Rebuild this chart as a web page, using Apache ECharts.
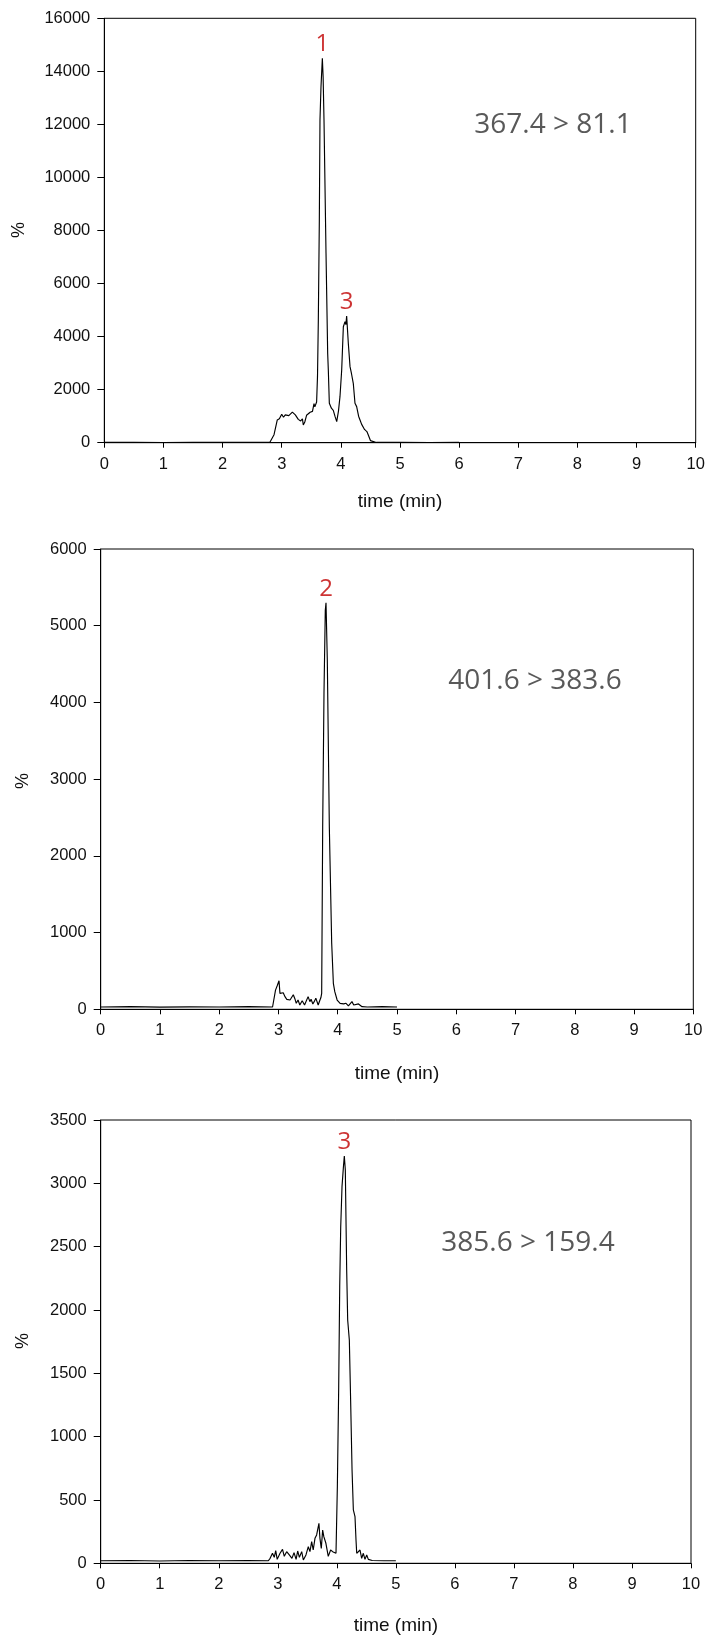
<!DOCTYPE html>
<html>
<head>
<meta charset="utf-8">
<title>MRM chromatograms</title>
<script src="https://cdn.jsdelivr.net/npm/echarts@6/dist/echarts.min.js"></script>
<style>
  html, body { margin: 0; padding: 0; background: #ffffff; }
  #chart { width: 710px; height: 1639px; }
</style>
</head>
<body>
<div id="chart"></div>
<script>
// Transitions (precursor > product, m/z) shown in each panel
const transitions = ['367.4 > 81.1', '401.6 > 383.6', '385.6 > 159.4'];

// Axis ranges for the three panels
const xRange = { min: 0, max: 10, step: 1 };
const yMax = [16000, 6000, 3500];
const yStep = [2000, 1000, 500];

// Trace 1: 367.4 > 81.1  [time (min), intensity]
const trace1 = [
  [0, 10], [0.5, 12], [1, 8], [1.5, 12], [2, 10], [2.5, 12], [2.8, 15],
  [2.83, 40], [2.87, 300], [2.925, 856], [2.96, 900], [3.0, 1070], [3.03, 960],
  [3.06, 1050], [3.09, 980], [3.12, 1020], [3.15, 960], [3.18, 1150], [3.2, 1207],
  [3.23, 1050], [3.25, 1100], [3.28, 880], [3.3, 950], [3.32, 820], [3.35, 900],
  [3.365, 667], [3.39, 780], [3.42, 1033], [3.45, 1000], [3.48, 1150], [3.507, 1221],
  [3.52, 1180], [3.546, 1470], [3.56, 1350], [3.59, 1534], [3.605, 2500], [3.619, 4626],
  [3.636, 8396], [3.647, 12166], [3.664, 13422], [3.687, 14492], [3.7, 13800],
  [3.715, 12166], [3.749, 7140], [3.777, 3370], [3.788, 2741], [3.805, 1485],
  [3.816, 1421], [3.84, 1300], [3.872, 1221], [3.9, 1000], [3.93, 792], [3.96, 1200],
  [3.985, 1735], [4.014, 2741], [4.042, 4373], [4.07, 4563], [4.085, 4450],
  [4.098, 4777], [4.126, 3747], [4.155, 2867], [4.18, 2600], [4.21, 2240],
  [4.239, 1485], [4.267, 1360], [4.3, 1000], [4.324, 856], [4.35, 700], [4.38, 667],
  [4.4, 500], [4.425, 540], [4.44, 420], [4.464, 290], [4.5, 80], [4.521, 20],
  [4.6, 10], [5, 12], [5.5, 8], [6, 10]
];

// Trace 2: 401.6 > 383.6
const trace2 = [
  [0, 30], [0.5, 34], [1, 28], [1.5, 32], [2, 30], [2.5, 34], [2.9, 30],
  [2.913, 34], [2.95, 250], [2.98, 310], [3.009, 373], [3.025, 208], [3.05, 190],
  [3.08, 215], [3.11, 165], [3.14, 130], [3.17, 140], [3.195, 121], [3.22, 100],
  [3.25, 190], [3.28, 130], [3.3, 78], [3.33, 121], [3.36, 56], [3.4, 112],
  [3.44, 56], [3.47, 80], [3.5, 165], [3.53, 100], [3.55, 130], [3.58, 70],
  [3.61, 110], [3.63, 145], [3.67, 56], [3.7, 121], [3.715, 150], [3.729, 208],
  [3.746, 2380], [3.768, 4119], [3.79, 5200], [3.802, 5300], [3.824, 4553],
  [3.858, 2380], [3.898, 860], [3.926, 339], [3.95, 230], [3.97, 208], [3.99, 121],
  [4.04, 78], [4.1, 70], [4.14, 78], [4.18, 45], [4.24, 100], [4.27, 56],
  [4.35, 70], [4.41, 34], [4.5, 30], [4.75, 34], [5, 30]
];

// Trace 3: 385.6 > 159.4
const trace3 = [
  [0, 20], [0.5, 22], [1, 18], [1.5, 22], [2, 20], [2.5, 22], [2.84, 20],
  [2.87, 39], [2.91, 79], [2.94, 47], [2.965, 100], [2.99, 31], [3.038, 79],
  [3.08, 110], [3.11, 55], [3.15, 92], [3.195, 66], [3.24, 39], [3.275, 84],
  [3.31, 31], [3.337, 97], [3.366, 47], [3.405, 92], [3.433, 26], [3.477, 66],
  [3.517, 131], [3.545, 92], [3.574, 171], [3.6, 105], [3.63, 197], [3.658, 224],
  [3.697, 316], [3.714, 197], [3.737, 118], [3.76, 263], [3.78, 210], [3.815, 158],
  [3.855, 55], [3.895, 105], [3.93, 92], [3.958, 79], [3.986, 79], [4.009, 605],
  [4.032, 1395], [4.049, 2184], [4.066, 2658], [4.088, 2974], [4.11, 3118],
  [4.127, 3216], [4.144, 3105], [4.167, 2316], [4.184, 1921], [4.212, 1763],
  [4.235, 1263], [4.258, 737], [4.28, 421], [4.308, 368], [4.325, 184], [4.337, 79],
  [4.365, 66], [4.393, 105], [4.421, 39], [4.449, 79], [4.477, 31], [4.506, 66],
  [4.534, 31], [4.6, 22], [4.8, 20], [5, 20]
];

// Peak numbers placed above their apexes: [time, intensity, label]
const peaks1 = [[3.687, 14492, '1'], [4.098, 4777, '3']];
const peaks2 = [[3.802, 5300, '2']];
const peaks3 = [[4.127, 3216, '3']];

const traces = [trace1, trace2, trace3];
const peakSets = [peaks1, peaks2, peaks3];

// Panel boxes in page pixels
const panels = [
  { left: 104.3, top: 18.3, width: 591.4, height: 424.4, titleY: 502, pctY: 230, pctX: 19, noteX: 553, noteY: 125 },
  { left: 100.7, top: 549, width: 592.6, height: 460.3, titleY: 1074, pctY: 781, pctX: 23, noteX: 535, noteY: 681 },
  { left: 100.7, top: 1120, width: 590.3, height: 443.3, titleY: 1626, pctY: 1341, pctX: 23, noteX: 528, noteY: 1243 }
];

const axisFont = 'Liberation Sans, Arial, sans-serif';
const noteFont = '"Open Sans", Lato, sans-serif';

const grid = [], xAxis = [], yAxis = [], series = [], graphic = [];

panels.forEach((p, i) => {
  grid.push({
    left: p.left, top: p.top, width: p.width, height: p.height,
    show: true, borderColor: '#000', borderWidth: 1, backgroundColor: 'transparent'
  });
  xAxis.push({
    type: 'value', gridIndex: i, min: xRange.min, max: xRange.max, interval: xRange.step,
    axisLine: { show: true, onZero: false, lineStyle: { color: '#000', width: 1 } },
    axisTick: { show: true, inside: false, length: 5, lineStyle: { color: '#000' } },
    axisLabel: { margin: 13, color: '#111', fontSize: 16.5, fontFamily: axisFont, formatter: v => String(v) },
    splitLine: { show: false }
  });
  yAxis.push({
    type: 'value', gridIndex: i, min: 0, max: yMax[i], interval: yStep[i],
    axisLine: { show: true, onZero: false, lineStyle: { color: '#000', width: 1 } },
    axisTick: { show: true, inside: false, length: 7, lineStyle: { color: '#000' } },
    axisLabel: { margin: 14, color: '#111', fontSize: 16.5, fontFamily: axisFont, formatter: v => String(v) },
    splitLine: { show: false }
  });
  series.push({
    type: 'line', xAxisIndex: i, yAxisIndex: i, data: traces[i],
    showSymbol: false, symbol: 'none', smooth: false, silent: true,
    lineStyle: { color: '#000', width: 1.15 }, z: 3
  });
  series.push({
    type: 'scatter', xAxisIndex: i, yAxisIndex: i, symbolSize: 0, silent: true, z: 4,
    data: peakSets[i].map(d => ({ value: [d[0], d[1]], name: d[2] })),
    label: {
      show: true, position: 'top', distance: 2, formatter: '{b}',
      color: '#c00000', fontSize: 24, fontFamily: noteFont
    }
  });

  // axis titles and transition labels
  graphic.push({
    type: 'text', x: p.left + p.width / 2, y: p.titleY,
    style: { text: 'time (min)', font: '19px ' + axisFont, fill: '#111', align: 'center', verticalAlign: 'middle' }
  });
  graphic.push({
    type: 'text', x: p.pctX, y: p.pctY, rotation: Math.PI / 2,
    style: { text: '%', font: '18px ' + axisFont, fill: '#111', align: 'center', verticalAlign: 'middle' }
  });
  graphic.push({
    type: 'text', x: p.noteX, y: p.noteY,
    style: { text: transitions[i], font: '28px ' + noteFont, fill: '#595959', align: 'center', verticalAlign: 'middle' }
  });
});

const chart = echarts.init(document.getElementById('chart'), null, { renderer: 'canvas' });
chart.setOption({
  animation: false,
  backgroundColor: '#ffffff',
  grid, xAxis, yAxis, series, graphic
});
</script>
</body>
</html>
